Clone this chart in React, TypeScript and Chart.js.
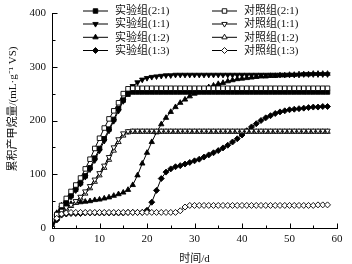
import React, { useEffect, useRef } from 'react';
import { Chart, registerables } from 'chart.js';
import { drawPoint } from 'chart.js/helpers';

Chart.register(...registerables);

const days = [
  0, 1, 2, 3, 4, 5, 6, 7, 8, 9, 10, 11, 12, 13, 14, 15, 16, 17, 18, 19,
  20, 21, 22, 23, 24, 25, 26, 27, 28, 29, 30, 31, 32, 33, 34, 35, 36, 37, 38, 39,
  40, 41, 42, 43, 44, 45, 46, 47, 48, 49, 50, 51, 52, 53, 54, 55, 56, 57, 58,
];

const xTicks = [0, 10, 20, 30, 40, 50, 60];
const xMinorTicks = [5, 15, 25, 35, 45, 55];
const yTicks = [0, 100, 200, 300, 400];
const yMinorTicks = [50, 150, 250, 350];

const seriesNames = [
  '实验组(2:1)', '实验组(1:1)', '实验组(1:2)', '实验组(1:3)',
  '对照组(2:1)', '对照组(1:1)', '对照组(1:2)', '对照组(1:3)',
];

const exp21 = [
  0, 20, 35, 48, 60, 72, 84, 97, 112, 130, 148, 166, 184, 202, 222, 238, 249, 253, 253, 253,
  253, 253, 253, 253, 253, 253, 253, 253, 253, 253, 253, 253, 253, 253, 253, 253, 253, 253, 253, 253,
  253, 253, 253, 253, 253, 253, 253, 253, 253, 253, 253, 253, 253, 253, 253, 253, 253, 253, 253,
];
const exp11 = [
  0, 18, 33, 46, 58, 70, 82, 95, 109, 126, 144, 162, 181, 199, 218, 236, 252, 264, 271, 276,
  279, 281, 282, 283, 284, 284, 285, 285, 285, 285, 285, 285, 285, 285, 285, 285, 285, 285, 285, 285,
  285, 285, 285, 285, 285, 285, 285, 285, 285, 285, 285, 285, 285, 286, 286, 286, 286, 286, 286,
];
const exp12 = [
  0, 28, 42, 44, 45, 47, 48, 49, 50, 52, 53, 55, 57, 60, 63, 66, 71, 80, 98, 120,
  140, 160, 178, 193, 205, 216, 225, 233, 239, 245, 250, 254, 258, 262, 265, 268, 270, 273, 275, 277,
  278, 279, 280, 281, 282, 282, 283, 283, 284, 284, 285, 285, 286, 286, 286, 287, 287, 287, 287,
];
const exp13 = [
  0, 15, 24, 26, 27, 27, 27, 28, 28, 28, 28, 28, 28, 28, 28, 28, 29, 29, 29, 29,
  33, 48, 70, 92, 104, 110, 114, 116, 119, 122, 125, 128, 132, 136, 140, 144, 149, 154, 160, 166,
  173, 181, 188, 194, 200, 205, 209, 213, 216, 218, 220, 221, 222, 223, 224, 225, 225, 226, 226,
];
const ctl21 = [
  0, 25, 42, 55, 68, 80, 93, 110, 128, 148, 167, 186, 203, 218, 233, 250, 259, 260, 260, 260,
  260, 260, 260, 260, 260, 260, 260, 260, 260, 260, 260, 260, 260, 260, 260, 260, 260, 260, 260, 260,
  260, 260, 260, 260, 260, 260, 260, 260, 260, 260, 260, 260, 260, 260, 260, 260, 260, 260, 260,
];
const ctl11 = [
  0, 20, 32, 38, 43, 50, 58, 68, 78, 90, 102, 116, 132, 150, 165, 176, 180, 181, 181, 181,
  181, 181, 181, 181, 181, 181, 181, 181, 181, 181, 181, 181, 181, 181, 181, 181, 181, 181, 181, 181,
  181, 181, 181, 181, 181, 181, 181, 181, 181, 181, 181, 181, 181, 181, 181, 181, 181, 181, 181,
];
const ctl12 = [
  0, 18, 30, 36, 41, 47, 55, 64, 74, 86, 98, 112, 127, 144, 160, 172, 178, 179, 179, 179,
  179, 179, 179, 179, 179, 179, 179, 179, 179, 179, 179, 179, 179, 179, 179, 179, 179, 179, 179, 179,
  179, 179, 179, 179, 179, 179, 179, 179, 179, 179, 179, 179, 179, 179, 179, 179, 179, 179, 179,
];
const ctl13 = [
  0, 18, 26, 28, 29, 29, 29, 29, 29, 29, 29, 29, 29, 29, 29, 29, 29, 29, 29, 29,
  29, 29, 29, 29, 29, 29, 29, 32, 39, 42, 42, 42, 42, 42, 42, 42, 42, 42, 42, 42,
  42, 42, 42, 42, 42, 42, 42, 42, 42, 42, 42, 42, 42, 42, 42, 42, 43, 43, 43,
];

const seriesValues = [exp21, exp11, exp12, exp13, ctl21, ctl11, ctl12, ctl13];

const FONT = '"Liberation Serif", "Noto Sans CJK SC", serif';

type Marker = { style: string; rotation: number; filled: boolean; radius: number };
const markers: Marker[] = [
  { style: 'rect', rotation: 0, filled: true, radius: 3.2 },
  { style: 'triangle', rotation: 180, filled: true, radius: 3.1 },
  { style: 'triangle', rotation: 0, filled: true, radius: 3.1 },
  { style: 'rectRot', rotation: 0, filled: true, radius: 3.0 },
  { style: 'rect', rotation: 0, filled: false, radius: 3.2 },
  { style: 'triangle', rotation: 180, filled: false, radius: 3.1 },
  { style: 'triangle', rotation: 0, filled: false, radius: 3.1 },
  { style: 'rectRot', rotation: 0, filled: false, radius: 3.0 },
];

const legendCols = [83, 212];
const legendRows = [11, 24, 37.3, 50.5];

const overlayPlugin = {
  id: 'overlay',
  afterDraw(chart: any) {
    const ctx: CanvasRenderingContext2D = chart.ctx;
    const xs = chart.scales.x;
    const ys = chart.scales.y;
    ctx.save();
    ctx.strokeStyle = '#000';
    ctx.lineWidth = 1;
    const yBase = Math.round(ys.getPixelForValue(0)) + 0.5;
    const xBase = Math.round(xs.getPixelForValue(0)) + 0.5;
    ctx.beginPath();
    xTicks.forEach((v) => {
      const px = Math.round(xs.getPixelForValue(v)) + 0.5;
      ctx.moveTo(px, yBase);
      ctx.lineTo(px, yBase - 5);
    });
    xMinorTicks.forEach((v) => {
      const px = Math.round(xs.getPixelForValue(v)) + 0.5;
      ctx.moveTo(px, yBase);
      ctx.lineTo(px, yBase - 3);
    });
    yTicks.forEach((v) => {
      const py = Math.round(ys.getPixelForValue(v)) + 0.5;
      ctx.moveTo(xBase, py);
      ctx.lineTo(xBase + 5, py);
    });
    yMinorTicks.forEach((v) => {
      const py = Math.round(ys.getPixelForValue(v)) + 0.5;
      ctx.moveTo(xBase, py);
      ctx.lineTo(xBase + 3, py);
    });
    ctx.stroke();

    // legend
    ctx.font = `11px ${FONT}`;
    ctx.textBaseline = 'middle';
    ctx.textAlign = 'left';
    seriesNames.forEach((name, i) => {
      const x0 = legendCols[i < 4 ? 0 : 1];
      const y = legendRows[i % 4];
      ctx.strokeStyle = '#000';
      ctx.lineWidth = 1;
      ctx.beginPath();
      ctx.moveTo(x0, y);
      ctx.lineTo(x0 + 25, y);
      ctx.stroke();
      const m = markers[i];
      ctx.fillStyle = m.filled ? '#000' : '#fff';
      ctx.strokeStyle = '#000';
      ctx.lineWidth = 0.9;
      drawPoint(ctx, { pointStyle: m.style, rotation: m.rotation, radius: m.radius, borderWidth: 0.9 } as any, x0 + 12.5, y);
      ctx.fillStyle = '#111';
      ctx.fillText(name, x0 + 32, y + 0.5);
    });

    // y axis title
    ctx.save();
    ctx.translate(13, 109);
    ctx.rotate(-Math.PI / 2);
    ctx.textAlign = 'center';
    ctx.textBaseline = 'middle';
    ctx.fillStyle = '#111';
    ctx.font = `11px ${FONT}`;
    ctx.fillText('累积产甲烷量/(mL·g⁻¹ VS)', 0, 0);
    ctx.restore();

    ctx.restore();
  },
};

export default function App() {
  const ref = useRef<HTMLCanvasElement | null>(null);
  useEffect(() => {
    if (!ref.current) return;
    Chart.defaults.font.family = FONT;
    Chart.defaults.font.size = 11;
    Chart.defaults.color = '#111';
    const datasets = seriesValues.map((vals, i) => {
      const m = markers[i];
      return {
        label: seriesNames[i],
        data: days.map((d, j) => ({ x: d, y: vals[j] })),
        borderColor: '#000',
        borderWidth: 1,
        backgroundColor: m.filled ? '#000' : '#fff',
        pointStyle: m.style,
        rotation: m.rotation,
        pointRadius: m.radius,
        pointBorderWidth: 0.9,
        pointBorderColor: '#000',
        pointBackgroundColor: m.filled ? '#000' : '#fff',
        tension: 0,
        order: i === 7 ? 0 : i < 4 ? 2 : 1,
      };
    });
    const chart = new Chart(ref.current, {
      type: 'line',
      data: { datasets: datasets as any },
      options: {
        animation: false,
        responsive: true,
        maintainAspectRatio: false,
        layout: { padding: { top: 13, right: 15, left: 0, bottom: 0 } },
        plugins: { legend: { display: false }, tooltip: { enabled: false } },
        scales: {
          x: {
            type: 'linear',
            min: 0,
            max: 60,
            afterFit: (s: any) => { s.height = 36; },
            afterBuildTicks: (s: any) => { s.ticks = xTicks.map((v) => ({ value: v })); },
            grid: { display: false, drawTicks: false },
            border: { display: true, color: '#000', width: 1 },
            ticks: { padding: 5, maxRotation: 0, color: '#111', font: { size: 11, family: FONT } },
            title: { display: true, text: '时间/d', padding: { top: 0, bottom: -2 }, color: '#111', font: { size: 11, family: FONT } },
          },
          y: {
            type: 'linear',
            min: 0,
            max: 400,
            afterFit: (s: any) => { s.width = 52; },
            afterBuildTicks: (s: any) => { s.ticks = yTicks.map((v) => ({ value: v })); },
            grid: { display: false, drawTicks: false },
            border: { display: true, color: '#000', width: 1 },
            ticks: { padding: 6, color: '#111', font: { size: 11, family: FONT } },
          },
        },
      },
      plugins: [overlayPlugin],
    });
    return () => chart.destroy();
  }, []);
  return (
    <div style={{ position: 'fixed', left: 0, top: 0, width: 352, height: 264 }}>
      <canvas ref={ref} />
    </div>
  );
}
